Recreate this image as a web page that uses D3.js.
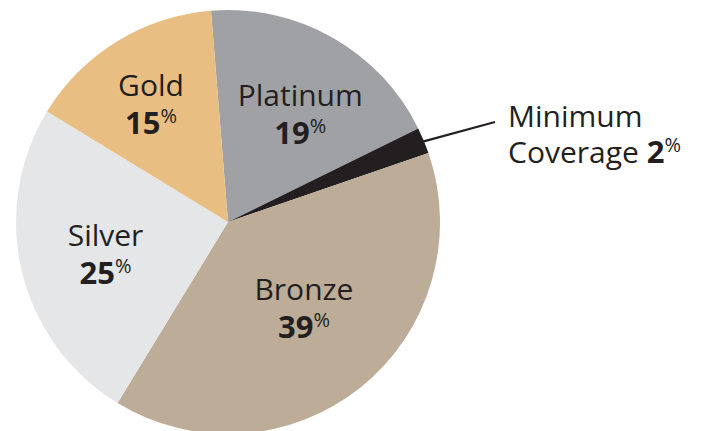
<!DOCTYPE html>
<html><head><meta charset="utf-8">
<script src="https://cdn.jsdelivr.net/npm/d3@7"></script>
<style>body{margin:0;background:#fff}svg{display:block}</style>
</head><body>
<svg id="c" width="704" height="431"></svg>
<script>
const categories = ["Platinum", "Minimum Coverage", "Bronze", "Silver", "Gold"];
const values = [19, 2, 39, 25, 15];
const colors = ["#a0a1a5", "#231f20", "#bcac98", "#e5e6e8", "#e8be82"];
// small label nudges (px) from the arc centroid, per slice
const labelNudge = [[10, 2], [0, 0], [-3, -12], [0, 2], [-11, -11]];

const svg = d3.select("#c");
const cx = 228, cy = 222, R = 212;
const g = svg.append("g").attr("transform", `translate(${cx},${cy})`);
const start = -4.6 * Math.PI / 180;
const pie = d3.pie().sort(null).value(d => d.v).startAngle(start).endAngle(start + 2 * Math.PI);
const data = pie(categories.map((c, i) => ({c, v: values[i], col: colors[i], n: labelNudge[i]})));
const arc = d3.arc().innerRadius(0).outerRadius(R);
g.selectAll("path").data(data).join("path").attr("d", arc).attr("fill", d => d.data.col);

const font = "'Open Sans', sans-serif";
const ink = "#231f20";
const labelArc = d3.arc().innerRadius(126).outerRadius(126);
const inside = data.filter(d => d.data.c !== "Minimum Coverage");
inside.forEach(d => {
  const [x0, y0] = labelArc.centroid(d);
  const x = x0 + d.data.n[0], y = y0 + d.data.n[1];
  const t = g.append("text").attr("text-anchor", "middle").attr("fill", ink).style("font-family", font);
  t.append("tspan").attr("x", x).attr("y", y - 8).style("font-size", "30px").text(d.data.c);
  t.append("tspan").attr("x", x).attr("dy", 38).style("font-size", "31px").style("font-weight", "700").text(d.data.v);
  t.append("tspan").attr("dy", -11).style("font-size", "20px").style("font-weight", "400").text("%");
});

// Minimum coverage callout
const mc = data.find(d => d.data.c === "Minimum Coverage");
const ang = (mc.startAngle + mc.endAngle) / 2;
const p0 = [Math.sin(ang) * (R - 6), -Math.cos(ang) * (R - 6)];
g.append("line").attr("x1", p0[0]).attr("y1", p0[1]).attr("x2", 495 - cx).attr("y2", 122 - cy)
  .attr("stroke", ink).attr("stroke-width", 2.2);
const mt1 = svg.append("text").attr("fill", ink).style("font-family", font).style("font-size", "30px")
  .attr("x", 508).attr("y", 127).text("Minimum");
const mt = svg.append("text").attr("fill", ink).style("font-family", font).style("font-size", "30px")
  .attr("x", 508).attr("y", 163);
mt.append("tspan").text("Coverage ");
mt.append("tspan").style("font-weight", "700").style("font-size", "31px").text(mc.data.v);
mt.append("tspan").attr("dy", -11).style("font-size", "20px").text("%");
</script>
</body></html>
